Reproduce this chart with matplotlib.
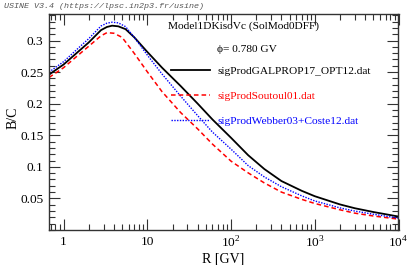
import numpy as np
import matplotlib
matplotlib.use("Agg")
import matplotlib.pyplot as plt
from matplotlib.ticker import FixedLocator, MultipleLocator, LogLocator, NullFormatter, FuncFormatter

plt.rcParams["font.family"] = ["Liberation Serif", "DejaVu Serif"]
plt.rcParams["mathtext.fontset"] = "custom"
plt.rcParams["mathtext.rm"] = "Liberation Serif"

# rigidity grid [GV] and B/C ratios
r_galprop = [0.67, 1.0, 1.5, 2.0, 2.8, 3.3, 3.8, 4.5, 5.5, 7.0, 10, 15, 25, 40, 60,
             100, 160, 250, 400, 700, 1000, 2000, 3000, 5000, 10000]
bc_galprop = [0.246, 0.262, 0.2825, 0.297, 0.3165, 0.3215, 0.3235, 0.3225, 0.318, 0.305,
              0.282, 0.257, 0.228, 0.200, 0.175, 0.146, 0.1185, 0.0965, 0.0775, 0.062,
              0.0535, 0.0405, 0.0345, 0.0285, 0.0213]

r_soutoul = [0.67, 1.0, 1.5, 2.0, 2.8, 3.3, 4.0, 5.0, 7.0, 10, 15, 25, 40, 60,
             100, 160, 250, 400, 700, 1000, 2000, 3000, 5000, 10000]
bc_soutoul = [0.2415, 0.257, 0.277, 0.291, 0.3075, 0.3125, 0.3115, 0.305, 0.2795, 0.2505,
              0.219, 0.186, 0.160, 0.136, 0.109, 0.0905, 0.0745, 0.060, 0.0485, 0.042,
              0.032, 0.0267, 0.0222, 0.0172]

r_webber = [0.67, 1.0, 1.5, 2.0, 2.8, 3.3, 3.8, 4.5, 5.5, 7.0, 10, 15, 25, 40, 60,
            100, 160, 250, 400, 700, 1000, 2000, 3000, 5000, 10000]
bc_webber = [0.250, 0.2665, 0.288, 0.303, 0.323, 0.3275, 0.329, 0.328, 0.322, 0.305,
             0.277, 0.247, 0.212, 0.181, 0.155, 0.128, 0.102, 0.084, 0.0685, 0.054,
             0.046, 0.035, 0.030, 0.025, 0.0188]

labels = ["sigProdGALPROP17_OPT12.dat", "sigProdSoutoul01.dat", "sigProdWebber03+Coste12.dat"]
colors = ["black", "#ff0000", "#0000ff"]
xtick_vals = [1, 10, 100, 1000, 10000]
ytick_vals = [0.05, 0.1, 0.15, 0.2, 0.25, 0.3]

W, H = 407, 265
fig = plt.figure(figsize=(W / 100, H / 100), dpi=100)
ax = fig.add_axes([49 / W, 1 - 230 / H, (398.5 - 49) / W, (230 - 14) / H])

ax.plot(r_galprop, bc_galprop, color=colors[0], lw=1.3, ls="-", label=labels[0])
ax.plot(r_soutoul, bc_soutoul, color=colors[1], lw=1.1, ls=(0, (3, 2)), label=labels[1])
ax.plot(r_webber, bc_webber, color=colors[2], lw=1.0, ls=(0, (1, 1)), label=labels[2])

ax.set_xscale("log")
ax.set_xlim(0.67, 10000)
ax.set_ylim(0, 0.342)

ax.xaxis.set_major_locator(FixedLocator(xtick_vals))
ax.xaxis.set_minor_locator(LogLocator(base=10, subs=np.arange(2, 10), numticks=20))
ax.xaxis.set_minor_formatter(NullFormatter())


def fmt_x(v, pos):
    if v < 50:
        return "%d" % v
    return r"$10^{%d}$" % round(np.log10(v))


ax.xaxis.set_major_formatter(FuncFormatter(fmt_x))
ax.yaxis.set_major_locator(FixedLocator(ytick_vals))
ax.yaxis.set_major_formatter(FuncFormatter(lambda v, p: ("%.2f" % v).rstrip("0")))
ax.yaxis.set_minor_locator(MultipleLocator(0.01))

ax.tick_params(which="both", direction="in", top=True, right=True, labelsize=9.6,
               color="#333333", width=0.8)
ax.tick_params(which="major", length=8, pad=4)
ax.tick_params(which="minor", length=4)
for sp in ax.spines.values():
    sp.set_linewidth(1.0)
    sp.set_color("#333333")

ax.set_xlabel("R [GV]", fontsize=10)
ax.set_ylabel("B/C", fontsize=10)
ax.xaxis.set_label_coords(0.498, -0.102)
ax.yaxis.set_label_coords(-0.085, 0.52)

leg = ax.legend(loc="upper left", bbox_to_anchor=(171 / W, 1 - 66 / H),
                bbox_transform=fig.transFigure, frameon=False, fontsize=8.2,
                handlelength=3.4, handletextpad=0.7, labelspacing=1.3, borderpad=0,
                borderaxespad=0)
for t, c in zip(leg.get_texts(), colors):
    t.set_color(c)

fig.text(168 / W, 1 - 26 / H, "Model1DKisoVc (SolMod0DFF)", fontsize=8.2, va="center")
fig.text(217 / W, 1 - 50 / H, "\u03d5= 0.780 GV", fontsize=8.2, va="center")
fig.text(4 / W, 1 - 6 / H, "USINE V3.4 (https://lpsc.in2p3.fr/usine)", fontsize=6,
         family="Liberation Mono", style="italic", color="#555555", va="center")

fig.savefig("out.png", dpi=100, facecolor="white")
